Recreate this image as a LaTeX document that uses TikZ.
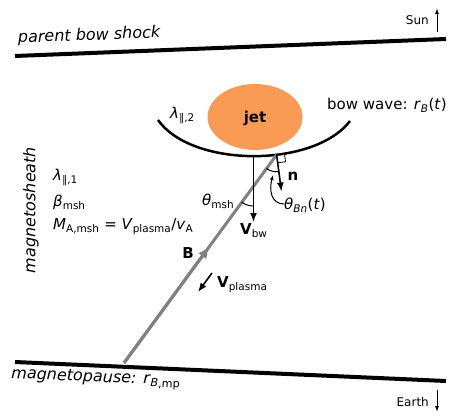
\documentclass[tikz,border=0pt]{standalone}
\usepackage{fontspec}
\setmainfont{DejaVu Sans}
\usetikzlibrary{arrows.meta,calc,shapes.geometric}
\definecolor{jetorange}{RGB}{250,155,85}
\definecolor{bline}{RGB}{128,128,128}
\newcommand\sbs[1]{\textsubscript{#1}}
\begin{document}
\begin{tikzpicture}[x=1pt,y=-1pt,
  every node/.style={inner sep=0pt},
  lbl/.style={font=\fontsize{15}{17}\selectfont},
  big/.style={font=\fontsize{16}{18}\selectfont},
  small/.style={font=\fontsize{12}{14}\selectfont},
  boundary/.style={line width=4pt},
  blkarrow/.style={line width=1.6pt,-{Latex[length=9pt,width=7pt]}},
  thinarrow/.style={line width=1pt,-{Latex[length=6pt,width=4pt]}},
  anglearc/.style={line width=1pt}]
\useasboundingbox (0,0) rectangle (454,414);
% boundaries
\coordinate (pbL) at (15,56);
\coordinate (pbR) at (446,39);
\draw[boundary] (pbL) -- (pbR);
\coordinate (mpL) at (15,362);
\coordinate (mpR) at (446,381);
\draw[boundary] (mpL) -- (mpR);
\node[big,anchor=base west,rotate=2.2] (pbtext) at (18,43) {\textit{parent bow shock}};
\node[big,anchor=base west,rotate=-2.5] (mptext) at (11,378) {\textit{magnetopause: r}\sbs{\textit{B},mp}};
% Sun / Earth
\node[small,anchor=east] (sun) at (429,20) {Sun};
\coordinate (sunA) at (437,32);
\coordinate (sunB) at (437,8);
\draw[thinarrow] (sunA) -- (sunB);
\node[small,anchor=east] (earth) at (429,402) {Earth};
\coordinate (earthA) at (437,390);
\coordinate (earthB) at (437,412);
\draw[thinarrow] (earthA) -- (earthB);
% jet
\node[ellipse,fill=jetorange,minimum width=95pt,minimum height=66pt] (jet) at (255,117) {};
\node[lbl,font=\fontsize{15}{17}\selectfont\bfseries] (jettext) at (255,118) {jet};
% bow wave
\coordinate (bwL) at (158,120);
\coordinate (bwR) at (350,121);
\draw[line width=2.5pt] (bwL) .. controls (192,168) and (314,168) .. (bwR);
\coordinate (vtop) at (253.5,156);
\coordinate (att) at (276.6,154.8);
\node[lbl,anchor=base west] (bwtext) at (327,110) {bow wave: \textit{r}\sbs{\textit{B}}(\textit{t})};
\node[lbl,anchor=west] (lam2) at (170,115) {\textit{λ}\sbs{∥,2}};
% B line
\coordinate (b0) at (124,363);
\draw[line width=3pt,bline] (b0) -- (att);
\draw[line width=3pt,bline,-{Latex[length=12pt,width=10pt]}] (b0) -- ($(b0)!0.56!(att)$);
\node[lbl,font=\fontsize{15}{17}\selectfont\bfseries] (Blab) at (188,253) {B};
% V_bw
\coordinate (vbot) at (253.5,222);
\draw[blkarrow] (vtop) -- (vbot);
\node[lbl,anchor=west] (vbwlab) at (240,231) {\textbf{V}\sbs{bw}};
% theta_msh
\coordinate (cmsh) at (253.5,186);
\draw[anglearc] ($(cmsh)+(90:20)$) arc (90:126.3:20);
\node[lbl,anchor=west] (thmsh) at (202,201) {\textit{θ}\sbs{msh}};
% normal
\coordinate (nend) at (281.5,191.5);
\draw[blkarrow] (att) -- (nend);
\draw[line width=0.8pt] (att) -- ++(7.94,-0.95) -- ++(0.95,7.94) -- ++(-7.94,0.95);
\node[lbl,font=\fontsize{15}{17}\selectfont\bfseries] (nlab) at (293,176) {n};
\draw[anglearc] ($(att)+(83.2:17)$) arc (83.2:126.3:17);
\node[lbl,anchor=west] (thbn) at (284,205) {\textit{θ}\sbs{\textit{Bn}}(\textit{t})};
\coordinate (cbA) at (284,204);
\coordinate (cbB) at (273,175);
\draw[line width=1pt,-{Latex[length=5pt,width=4pt]}] (cbA) .. controls (271,204) and (269,190) .. (cbB);
% V_plasma
\coordinate (vpA) at (212,273);
\coordinate (vpB) at (198,292);
\draw[blkarrow] (vpA) -- (vpB);
\node[lbl,anchor=west] (vplab) at (217,285) {\textbf{V}\sbs{plasma}};
% magnetosheath
\node[big,rotate=90] (msh) at (31,210) {\textit{magnetosheath}};
\node[lbl,anchor=west] (lam1) at (53,177) {\textit{λ}\sbs{∥,1}};
\node[lbl,anchor=west] (beta) at (53,202) {\textit{β}\sbs{msh}};
\node[lbl,anchor=west] (ma) at (53,227) {\textit{M}\sbs{A,msh} = \textit{V}\sbs{plasma}/\textit{v}\sbs{A}};
\end{tikzpicture}
\end{document}
